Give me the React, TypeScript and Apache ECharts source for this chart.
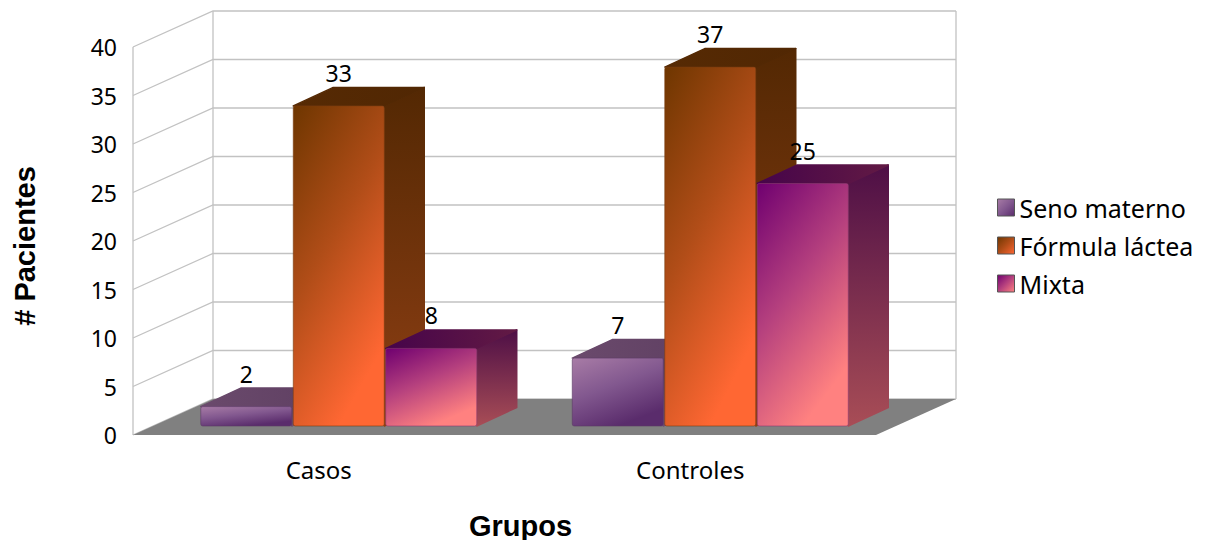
import React, { useEffect, useRef } from "react";
import * as echarts from "echarts";

const categories = ["Casos", "Controles"];
const senoMaterno = [2, 7];
const formulaLactea = [33, 37];
const mixta = [8, 25];
const yTicks = [0, 5, 10, 15, 20, 25, 30, 35, 40];

const FONT = "'Noto Sans', sans-serif";
const TITLE_FONT = "'Liberation Sans', Arial, sans-serif";

// Oblique projection of the 3D box: full depth of the floor, and where the bars sit in it.
const WALL_DX = 80;
const WALL_DY = -36;
const BAR_OFFSET_DX = 20;
const BAR_OFFSET_DY = -9;
const BAR_DEPTH_DX = 40;
const BAR_DEPTH_DY = -18.5;
const BAR_WIDTH = 91;
const BAR_STEP = 92.5;

const grad = (x2: number, y2: number, stops: string[]) => ({
  type: "linear",
  x: 0,
  y: 0,
  x2,
  y2,
  colorStops: stops.map((color, i) => ({ offset: i / (stops.length - 1), color })),
});

const palettes = [
  {
    front: ["#a87ca6", "#82588f", "#5a2c6c"],
    top: ["#6a4a6c", "#5f3f62"],
    side: ["#5c3c60", "#6e4d70"],
    edge: "#5b3a66",
  },
  {
    front: ["#6e3600", "#b14d18", "#ff6733"],
    top: ["#562a04", "#512703"],
    side: ["#532803", "#8f3f14"],
    edge: "#7a3c10",
  },
  {
    front: ["#6f0070", "#b5407e", "#ff8180"],
    top: ["#46044a", "#621a44"],
    side: ["#4e0f46", "#a84d56"],
    edge: "#8a3a70",
  },
];

// Back wall, side wall and floor, one horizontal rule per tick value.
const renderFrame = (params: any, api: any) => {
  const cs = params.coordSys;
  const tick = api.value(0);
  const y = api.coord([0, tick])[1];
  const left = cs.x;
  const right = cs.x + cs.width;
  const line = { stroke: "#c2c2c2", lineWidth: 1.3, fill: "none" };
  const children: any[] = [
    {
      type: "polyline",
      shape: {
        points: [
          [left, y],
          [left + WALL_DX, y + WALL_DY],
          [right + WALL_DX, y + WALL_DY],
        ],
      },
      style: line,
    },
  ];
  if (tick === 0) {
    const top = cs.y;
    children.unshift(
      {
        type: "line",
        shape: { x1: left, y1: top, x2: left, y2: y },
        style: line,
      },
      {
        type: "line",
        shape: { x1: left + WALL_DX, y1: top + WALL_DY, x2: left + WALL_DX, y2: y + WALL_DY },
        style: line,
      },
      {
        type: "line",
        shape: { x1: right + WALL_DX, y1: top + WALL_DY, x2: right + WALL_DX, y2: y + WALL_DY },
        style: line,
      }
    );
    children.push({
      type: "polygon",
      shape: {
        points: [
          [left, y],
          [left + WALL_DX, y + WALL_DY],
          [right + WALL_DX, y + WALL_DY],
          [right, y],
        ],
      },
      style: { fill: "#808080" },
    });
  }
  return { type: "group", children };
};

const makeBarRenderer = (seriesIndex: number) => (_params: any, api: any) => {
  const p = palettes[seriesIndex];
  const cat = api.value(0);
  const value = api.value(1);
  const topPt = api.coord([cat, value]);
  const basePt = api.coord([cat, 0]);
  const x0 = topPt[0] + BAR_OFFSET_DX + (seriesIndex - 1) * BAR_STEP - BAR_WIDTH / 2;
  const x1 = x0 + BAR_WIDTH;
  const yTop = topPt[1] + BAR_OFFSET_DY;
  const yBase = basePt[1] + BAR_OFFSET_DY;
  const topFill = grad(1, 0, p.top);
  const sideFill = grad(0, 1, p.side);
  return {
    type: "group",
    children: [
      {
        type: "polygon",
        shape: {
          points: [
            [x1, yTop],
            [x1 + BAR_DEPTH_DX, yTop + BAR_DEPTH_DY],
            [x1 + BAR_DEPTH_DX, yBase + BAR_DEPTH_DY],
            [x1, yBase],
          ],
        },
        style: { fill: sideFill, stroke: sideFill, lineWidth: 1.5, lineJoin: "round" },
      },
      {
        type: "polygon",
        shape: {
          points: [
            [x0, yTop],
            [x0 + BAR_DEPTH_DX, yTop + BAR_DEPTH_DY],
            [x1 + BAR_DEPTH_DX, yTop + BAR_DEPTH_DY],
            [x1, yTop],
          ],
        },
        style: { fill: topFill, stroke: topFill, lineWidth: 1.5, lineJoin: "round" },
      },
      {
        type: "rect",
        shape: { x: x0, y: yTop, width: BAR_WIDTH, height: yBase - yTop, r: 2 },
        style: { fill: grad(0.5, 1, p.front), stroke: p.edge, lineWidth: 1, strokeOpacity: 0.6 },
      },
      {
        type: "text",
        style: {
          text: String(value),
          x: (x0 + x1) / 2,
          y: yTop - 33,
          align: "center",
          verticalAlign: "middle",
          font: `23px ${FONT}`,
          fill: "#000",
        },
        z2: 10,
      },
    ],
  };
};

const barSeries = (name: string, values: number[], index: number) => ({
  type: "custom",
  name,
  z: 3 + index,
  clip: false,
  silent: true,
  renderItem: makeBarRenderer(index),
  encode: { x: 0, y: 1 },
  data: values.map((v, i) => [i, v]),
});

const legendEntry = (name: string, index: number) => ({
  name,
  icon: "rect",
  itemStyle: { color: grad(1, 1, palettes[index].front), borderColor: "#555", borderWidth: 1 },
});

export default function App() {
  const ref = useRef<HTMLDivElement>(null);

  useEffect(() => {
    const chart = echarts.init(ref.current!, undefined, { renderer: "svg" });
    chart.setOption({
      animation: false,
      backgroundColor: "#fff",
      grid: { left: 133, top: 47, width: 743, height: 388, containLabel: false, outerBoundsMode: "none" },
      legend: {
        orient: "vertical",
        left: 992,
        top: 190,
        itemWidth: 17,
        itemHeight: 17,
        itemGap: 13,
        selectedMode: false,
        textStyle: { fontFamily: FONT, fontSize: 25, color: "#000", padding: [3, 0, 0, 0] },
        data: [
          legendEntry("Seno materno", 0),
          legendEntry("Fórmula láctea", 1),
          legendEntry("Mixta", 2),
        ],
      },
      xAxis: {
        type: "category",
        data: categories,
        axisLine: { show: false },
        axisTick: { show: false },
        splitLine: { show: false },
        axisLabel: { margin: 22, fontFamily: FONT, fontSize: 24, color: "#000" },
        name: "Grupos",
        nameLocation: "middle",
        nameGap: 76,
        nameTextStyle: {
          fontFamily: TITLE_FONT,
          fontWeight: "bold",
          fontSize: 29,
          color: "#000",
          padding: [0, 0, 0, 32],
        },
      },
      yAxis: {
        type: "value",
        min: 0,
        max: 40,
        interval: 5,
        axisLine: { show: false },
        axisTick: { show: false },
        splitLine: { show: false },
        axisLabel: { margin: 16, fontFamily: FONT, fontSize: 23, color: "#000" },
        name: "# Pacientes",
        nameLocation: "middle",
        nameGap: 94,
        nameTextStyle: {
          fontFamily: TITLE_FONT,
          fontWeight: "bold",
          fontSize: 29,
          color: "#000",
          padding: [0, 10, 0, 0],
        },
      },
      series: [
        {
          type: "custom",
          name: "frame",
          z: 1,
          clip: false,
          silent: true,
          renderItem: renderFrame,
          encode: { y: 0 },
          data: yTicks.map((t) => [t]),
        },
        barSeries("Seno materno", senoMaterno, 0),
        barSeries("Fórmula láctea", formulaLactea, 1),
        barSeries("Mixta", mixta, 2),
      ],
    });
    return () => chart.dispose();
  }, []);

  return <div ref={ref} style={{ position: "fixed", left: 0, top: 0, width: 1206, height: 540 }} />;
}
